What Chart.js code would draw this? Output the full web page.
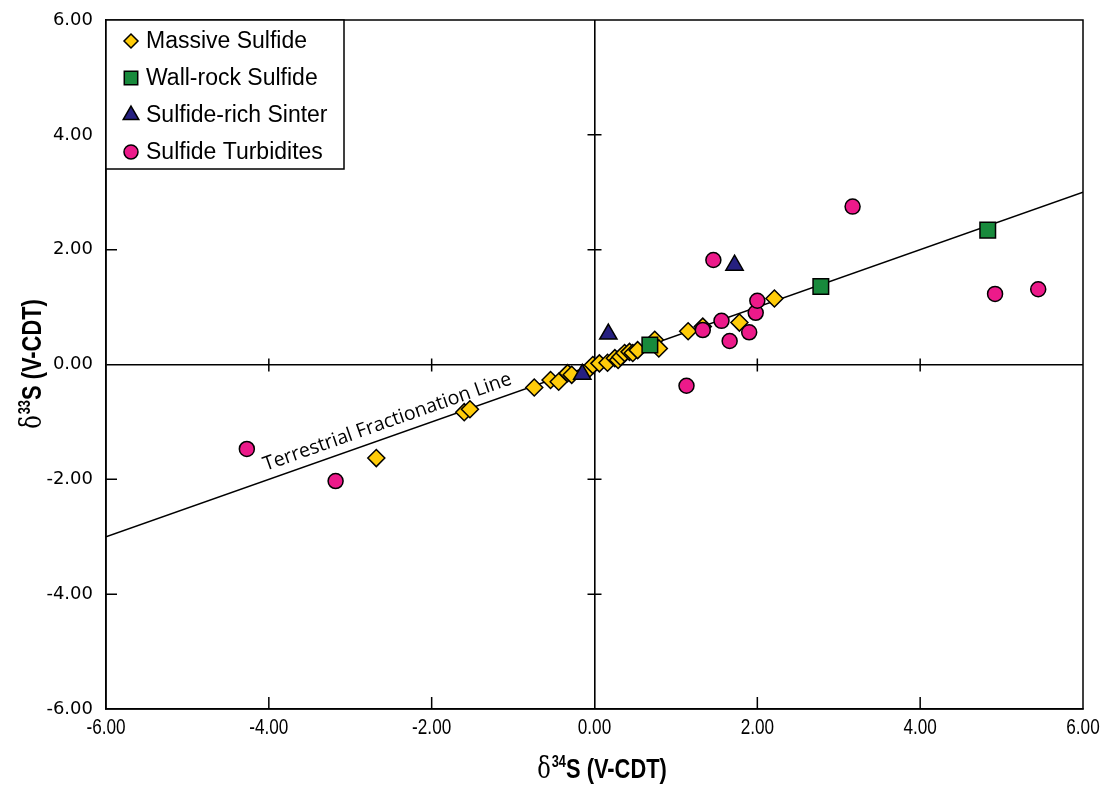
<!DOCTYPE html>
<html>
<head>
<meta charset="utf-8">
<script src="https://cdn.jsdelivr.net/npm/chart.js@4.4.1/dist/chart.umd.min.js"></script>
<style>
  html, body { margin: 0; padding: 0; background: #fff; }
  #wrap { width: 1110px; height: 785px; }
</style>
</head>
<body>
<div id="wrap"><canvas id="sulfurChart" width="1110" height="785"></canvas></div>
<script>
// axis ticks (both axes)
const axisTicks = [-6, -4, -2, 0, 2, 4, 6];

// Massive Sulfide
const massiveX = [-2.68, -1.60, -1.53, -0.74, -0.54, -0.44, -0.33, -0.28, -0.06, -0.02, 0.06, 0.16, 0.25, 0.29, 0.32, 0.37, 0.43, 0.47, 0.53, 0.74, 0.79, 1.15, 1.33, 1.78, 2.21];
const massiveY = [-1.63, -0.83, -0.78, -0.40, -0.27, -0.30, -0.15, -0.18, -0.07, -0.01, 0.02, 0.03, 0.11, 0.08, 0.13, 0.20, 0.22, 0.20, 0.25, 0.43, 0.28, 0.58, 0.66, 0.73, 1.15];

// Wall-rock Sulfide
const wallX = [0.68, 2.78, 4.83];
const wallY = [0.34, 1.36, 2.34];

// Sulfide-rich Sinter
const sinterX = [-0.15, 0.17, 1.72];
const sinterY = [-0.17, 0.53, 1.73];

// Sulfide Turbidites
const turbX = [-4.27, -3.18, 1.13, 1.46, 3.17, 1.33, 1.56, 1.66, 1.90, 1.98, 2.00, 4.92, 5.45];
const turbY = [-1.47, -2.03, -0.37, 1.82, 2.75, 0.60, 0.76, 0.41, 0.56, 0.90, 1.11, 1.23, 1.31];

// Terrestrial fractionation line end points
const lineX = [-6, 6];
const lineY = [-3, 3];
const lineLabel = 'Terrestrial Fractionation Line';

function toPoints(xs, ys) {
    return xs.map((x, i) => ({ x: x, y: ys[i] }));
}

const seriesStyles = [
    { label: 'Massive Sulfide', style: 'rectRot', color: '#FFCC0A', radius: 8.5, legendRadius: 7 },
    { label: 'Wall-rock Sulfide', style: 'rect', color: '#188A3C', radius: 11, legendRadius: 9.5 },
    { label: 'Sulfide-rich Sinter', style: 'triangle', color: '#262080', radius: 10, legendRadius: 9 },
    { label: 'Sulfide Turbidites', style: 'circle', color: '#EC1A8A', radius: 7.5, legendRadius: 7 }
];
const seriesData = [toPoints(massiveX, massiveY), toPoints(wallX, wallY), toPoints(sinterX, sinterY), toPoints(turbX, turbY)];
const drawOrder = [4, 3, 2, 1]; // circles on top, diamonds at the back

const scatterSets = seriesStyles.map((s, i) => ({
    type: 'scatter',
    label: s.label,
    data: seriesData[i],
    pointStyle: s.style,
    pointRadius: s.radius,
    pointHoverRadius: s.radius,
    backgroundColor: s.color,
    borderColor: '#000',
    pointBorderWidth: 1.5,
    order: drawOrder[i]
}));

const lineSet = {
    type: 'line',
    label: lineLabel,
    data: toPoints(lineX, lineY),
    borderColor: '#000',
    borderWidth: 1.6,
    pointRadius: 0,
    fill: false,
    order: 10
};

// condensed text helper (no narrow font installed)
function narrowText(ctx, text, x, y, font, squeeze, align) {
    ctx.save();
    ctx.font = font;
    const w = ctx.measureText(text).width * squeeze;
    let left = x;
    if (align === 'center') left = x - w / 2;
    ctx.translate(left, y);
    ctx.scale(squeeze, 1);
    ctx.textAlign = 'left';
    ctx.fillText(text, 0, 0);
    ctx.restore();
    return w;
}

// frame + inward tick marks on borders and on the zero axes
const frameTicks = {
    id: 'frameTicks',
    beforeDatasetsDraw(chart) {
        const { ctx, chartArea: a, scales: { x, y } } = chart;
        const x0 = x.getPixelForValue(0);
        const y0 = y.getPixelForValue(0);
        ctx.save();
        ctx.strokeStyle = '#000';
        ctx.lineWidth = 1.5;
        ctx.strokeRect(a.left, a.top, a.right - a.left, a.bottom - a.top);
        ctx.beginPath();
        axisTicks.forEach(v => {
            if (v === -6 || v === 6 || v === 0) return;
            const px = x.getPixelForValue(v);
            ctx.moveTo(px, a.bottom);
            ctx.lineTo(px, a.bottom - 12);
            ctx.moveTo(px, y0 - 6);
            ctx.lineTo(px, y0 + 7);
            const py = y.getPixelForValue(v);
            ctx.moveTo(a.left, py);
            ctx.lineTo(a.left + 11, py);
            ctx.moveTo(x0 - 7, py);
            ctx.lineTo(x0 + 7, py);
        });
        ctx.stroke();

        // x tick labels, condensed
        ctx.fillStyle = '#000';
        ctx.textBaseline = 'middle';
        axisTicks.forEach(v => {
            narrowText(ctx, v.toFixed(2), x.getPixelForValue(v), a.bottom + 19, '22px "Liberation Sans", Arial, sans-serif', 0.78, 'center');
        });

        // label along the fractionation line
        const p1 = { x: x.getPixelForValue(lineX[0]), y: y.getPixelForValue(lineY[0]) };
        const p2 = { x: x.getPixelForValue(lineX[1]), y: y.getPixelForValue(lineY[1]) };
        const ang = Math.atan2(p2.y - p1.y, p2.x - p1.x);
        const lx = -4.0;
        const sx = x.getPixelForValue(lx);
        const sy = y.getPixelForValue(lx * (lineY[1] - lineY[0]) / (lineX[1] - lineX[0]));
        ctx.translate(sx, sy);
        ctx.rotate(ang);
        ctx.font = '19.5px "Open Sans", sans-serif';
        ctx.textAlign = 'left';
        ctx.textBaseline = 'alphabetic';
        ctx.fillText(lineLabel, 0, -9);
        ctx.restore();
    }
};

// legend box drawn inside the plot, top-left corner
const boxLegend = {
    id: 'boxLegend',
    afterDraw(chart) {
        const { ctx, chartArea: a } = chart;
        ctx.save();
        ctx.fillStyle = '#fff';
        ctx.fillRect(a.left, a.top, 238, 149);
        ctx.strokeStyle = '#000';
        ctx.lineWidth = 1.5;
        ctx.strokeRect(a.left, a.top, 238, 149);
        ctx.font = '23px "Liberation Sans", Arial, sans-serif';
        ctx.textAlign = 'left';
        ctx.textBaseline = 'middle';
        seriesStyles.forEach((s, i) => {
            const cy = a.top + 21 + i * 37;
            ctx.fillStyle = s.color;
            ctx.strokeStyle = '#000';
            ctx.lineWidth = 1.5;
            Chart.helpers.drawPoint(ctx, { pointStyle: s.style, radius: s.legendRadius, borderWidth: 1.5 }, a.left + 25, cy);
            ctx.fillStyle = '#000';
            ctx.fillText(s.label, a.left + 40, cy + 1);
        });
        ctx.restore();
    }
};

// axis titles with real superscripts
function drawDeltaTitle(ctx, sup, cx, cy, rotate) {
    const parts = [
        { t: '\u03B4', font: '30px "DejaVu Serif", serif', dy: 0, sx: 0.75 },
        { t: sup, font: 'bold 16px "Liberation Sans", Arial, sans-serif', dy: -11, sx: 0.8 },
        { t: 'S (V-CDT)', font: 'bold 27px "Liberation Sans", Arial, sans-serif', dy: 0, sx: 0.81 }
    ];
    ctx.save();
    let total = 0;
    parts.forEach(p => { ctx.font = p.font; p.w = ctx.measureText(p.t).width * p.sx; total += p.w; });
    ctx.translate(cx, cy);
    if (rotate) ctx.rotate(-Math.PI / 2);
    ctx.fillStyle = '#000';
    ctx.textBaseline = 'alphabetic';
    ctx.textAlign = 'left';
    let xPos = -total / 2;
    parts.forEach(p => {
        ctx.save();
        ctx.font = p.font;
        ctx.translate(xPos, 10 + p.dy);
        ctx.scale(p.sx, 1);
        ctx.fillText(p.t, 0, 0);
        ctx.restore();
        xPos += p.w + (p.t === '\u03B4' ? 1 : 0);
    });
    ctx.restore();
}

const axisTitles = {
    id: 'axisTitles',
    afterDraw(chart) {
        const { ctx, chartArea: a } = chart;
        drawDeltaTitle(ctx, '34', (a.left + a.right) / 2 + 7, 768, false);
        drawDeltaTitle(ctx, '33', 31, (a.top + a.bottom) / 2, true);
    }
};

function zeroGrid(c) {
    return c.tick && c.tick.value === 0 ? '#000' : 'rgba(0,0,0,0)';
}

const config = {
    data: { datasets: [lineSet].concat(scatterSets) },
    options: {
        responsive: false,
        animation: false,
        devicePixelRatio: 1,
        layout: { padding: { left: 0, right: 27, top: 20, bottom: 0 } },
        plugins: {
            legend: { display: false },
            tooltip: { enabled: false }
        },
        scales: {
            x: {
                type: 'linear',
                min: -6,
                max: 6,
                afterBuildTicks: s => { s.ticks = axisTicks.map(v => ({ value: v })); },
                afterFit: s => { s.height = 76; s.paddingLeft = 0; s.paddingRight = 0; },
                ticks: { display: false },
                grid: { color: zeroGrid, lineWidth: 1.6, drawTicks: false },
                border: { color: '#000', width: 1.5 }
            },
            y: {
                type: 'linear',
                min: -6,
                max: 6,
                afterBuildTicks: s => { s.ticks = axisTicks.map(v => ({ value: v })); },
                afterFit: s => { s.width = 106; s.paddingTop = 0; s.paddingBottom = 0; },
                ticks: {
                    color: '#000',
                    padding: 13,
                    font: { family: '"DejaVu Sans", Verdana, sans-serif', size: 18 },
                    callback: v => v.toFixed(2)
                },
                grid: { color: zeroGrid, lineWidth: 1.6, drawTicks: false },
                border: { color: '#000', width: 1.5 }
            }
        }
    },
    plugins: [frameTicks, boxLegend, axisTitles]
};

const sulfurChart = new Chart(document.getElementById('sulfurChart'), config);
</script>
</body>
</html>
